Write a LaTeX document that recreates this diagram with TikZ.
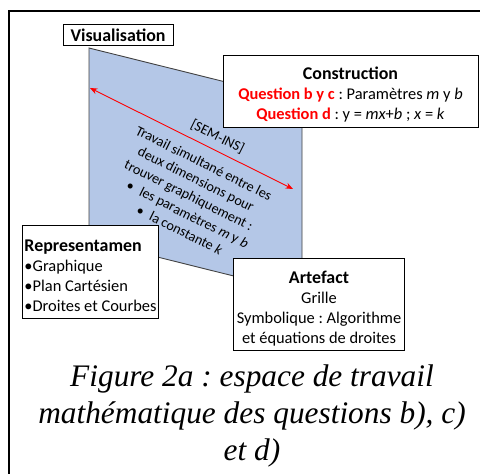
\documentclass[tikz,border=0pt]{standalone}
\usepackage{fontspec}
\setmainfont{Carlito}
\newfontfamily\capfont{Liberation Serif}
\usetikzlibrary{arrows.meta}
\frenchspacing

\definecolor{planblue}{RGB}{180,199,231}
\definecolor{qred}{RGB}{255,0,0}
\newcommand{\qlabel}[1]{\textcolor{qred}{\textbf{#1}}}
\newcommand{\boxhead}[2][13pt]{\rule{0pt}{#1}{\fontsize{12}{13.4}\selectfont\bfseries #2}}

\begin{document}
\begin{tikzpicture}[x=0.67pt, y=-0.67pt,
  every node/.style={font=\fontsize{11}{13.4}\selectfont},
  box/.style={draw, line width=0.6pt, fill=white, inner sep=2pt},
  head/.style={font=\fontsize{12}{13.4}\selectfont\bfseries},
  small/.style={font=\fontsize{9.5}{11.8}\selectfont}]
\useasboundingbox (0,0) rectangle (480,474);
% outer frame
\draw[line width=1.6pt] (9,11) rectangle (495,495);
% plane of the work space
\filldraw[fill=planblue, draw=black!75, line width=0.6pt]
  (89,48) -- (302,101) -- (302,293) -- (89,240) -- cycle;
% double arrow
\coordinate (semL) at (90,88);
\coordinate (semR) at (293,189);
\draw[qred, line width=0.6pt, {Stealth[length=5pt,width=4pt]}-{Stealth[length=5pt,width=4pt]}]
  (semL) -- (semR) node[pos=0.6, sloped, above=1pt, text=black, small] (sem) {[SEM-INS]};
\node[rotate=-26.5, align=left, small, inner sep=0pt, anchor=north west] (travail) at (139,125)
  {Travail simultané entre les\\
   \hspace*{7.5pt}deux dimensions pour\\
   \hspace*{3.3pt}trouver graphiquement :\\
   \hspace*{10.7pt}\textbullet\hspace{5pt}les paramètres \textit{m} y \textit{b}\\
   \hspace*{24pt}\textbullet\hspace{5pt}la constante \textit{k}};
% labels
\node[box, head, minimum width=73.7pt, minimum height=14pt, inner sep=1pt] (visu) at (118,35) {Visualisation};
\node[box, align=center, minimum width=170.9pt, minimum height=48.2pt] (constr) at (350.5,91)
  {\boxhead{Construction}\\
   \qlabel{Question b y c} : Paramètres \textit{m} y \textit{b}\\
   \qlabel{Question d} : y = \textit{mx}+\textit{b} ; \textit{x} = \textit{k}};
\node[box, align=left, inner xsep=1.5pt, minimum height=62.3pt] (repr) at (90.5,271.5)
  {\boxhead{Representamen}\\
   \textbullet Graphique\\
   \textbullet Plan Cartésien\\
   \textbullet Droites et Courbes};
\node[box, align=center, minimum width=112.6pt, minimum height=61.6pt] (artef) at (319,304)
  {\boxhead[14.5pt]{Artefact}\\
   Grille\\
   Symbolique : Algorithme\\
   et équations de droites};
% caption
\node[align=center, font=\capfont\itshape\fontsize{21}{24.5}\selectfont] (caption) at (252,416)
  {Figure 2a : espace de travail\\mathématique des questions b), c)\\et d)};
\end{tikzpicture}
\end{document}
